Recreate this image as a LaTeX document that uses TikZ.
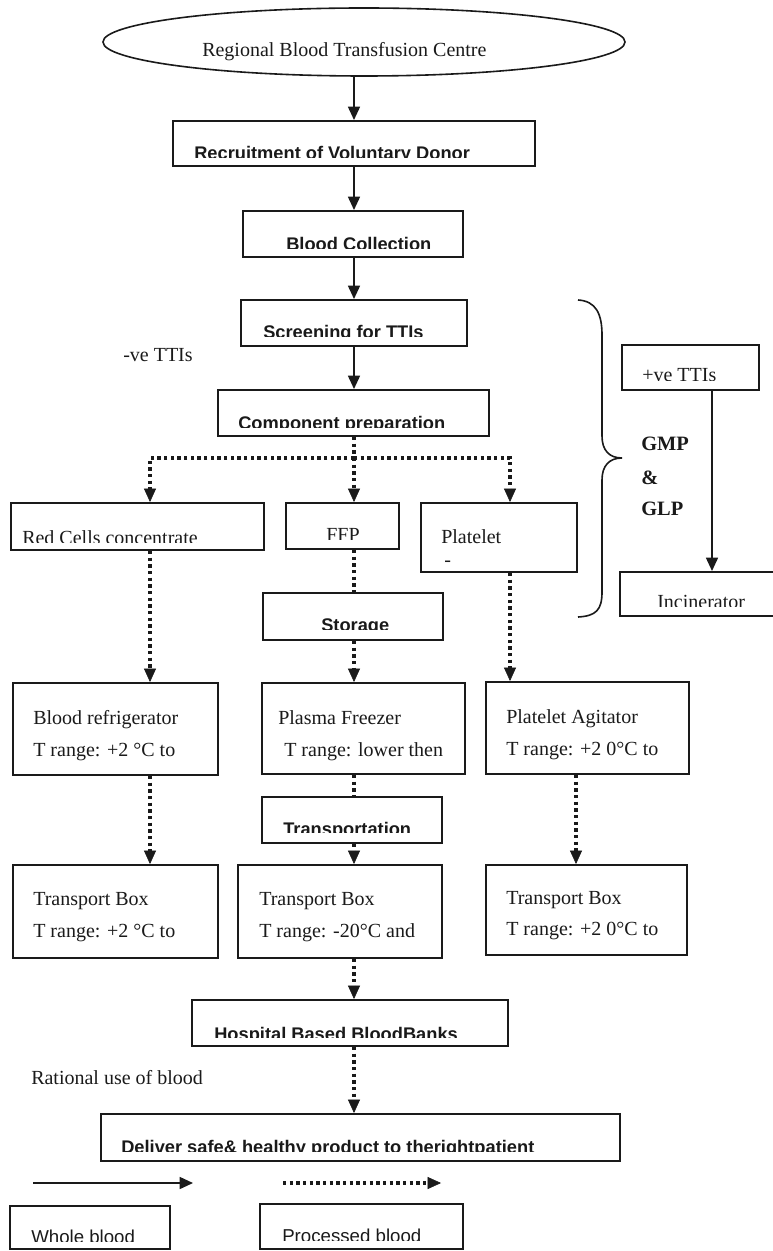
\documentclass[tikz,border=0pt]{standalone}
\usepackage{fontspec}
\setmainfont{Liberation Serif}
\newfontfamily\hsans{Liberation Sans}
\usetikzlibrary{arrows.meta,fit,shapes.geometric}
\definecolor{ink}{HTML}{1A1A1A}
\newcommand{\cliptext}[6]{%
  \begin{scope}\clip (0,0) rectangle (800,#4);
  \node[#5] (#1) at (#2,#3) {#6};
  \end{scope}}
\begin{document}
\begin{tikzpicture}[x=0.75pt,y=-0.75pt,
  box/.style={draw=ink, line width=1.5pt, inner sep=0pt, rectangle},
  txt/.style={inner sep=0pt, anchor=base west, text=ink, font=\fontsize{15}{18}\selectfont},
  hd/.style={txt, font=\hsans\bfseries\fontsize{13.7}{16}\selectfont},
  lsans/.style={txt, font=\hsans\fontsize{14}{17}\selectfont},
  gx/.style={txt, font=\bfseries\fontsize{15.3}{18}\selectfont},
  arr/.style={draw=ink, line width=1.2pt, -{Triangle[length=10pt,width=9pt]}},
  dotl/.style={draw=ink, line width=2.8pt, dash pattern=on 2.4pt off 2.6pt},
  darr/.style={dotl, -{Triangle[length=10pt,width=9pt,line width=0.4pt]}},
  brace/.style={draw=ink, line width=1.2pt}]
\useasboundingbox (0,0) rectangle (772,1251);
\fill[white] (0,0) rectangle (772,1251);

% guide coordinates
\coordinate (ax) at (354,0);
\coordinate (colA) at (150,0);
\coordinate (colC) at (510,0);
\coordinate (colD) at (576,0);
\coordinate (colP) at (712,0);
\coordinate (hub) at (354,458);

% ellipse
\node[draw=ink, line width=1.2pt, ellipse, minimum width=391.5pt, minimum height=51pt, inner sep=0pt] (ell) at (364,42) {};
\node[txt] (t-ell) at (202,57) {Regional Blood Transfusion Centre};

% main boxes
\node[box, fit={(173,121)(535,166)}] (rec) {};
\cliptext{t-rec}{194}{160}{157.5}{hd}{Recruitment of Voluntary Donor}
\node[box, fit={(243,211)(463,257)}] (col) {};
\cliptext{t-col}{286}{251}{248.5}{hd}{Blood Collection}
\node[box, fit={(241,300)(467,346)}] (scr) {};
\cliptext{t-scr}{263}{339}{337}{hd}{Screening for TTIs}
\node[txt] (t-neg) at (123,362) {-ve TTIs};
\node[box, fit={(218,390)(489,436)}] (comp) {};
\cliptext{t-comp}{238}{429}{427}{hd}{Component preparation}

% +ve branch
\node[box, fit={(622,345)(759,390)}] (pos) {};
\cliptext{t-pos}{642}{382}{380}{txt}{+ve TTIs}
\node[box, fit={(620,572)(778,616)}] (inc) {};
\cliptext{t-inc}{657}{608}{606}{txt}{Incinerator}
\draw[brace] (578,300) .. controls (596,301) and (602,314) .. (602,335)
  -- (602,436) .. controls (602,450) and (609,458) .. (622,458)
  .. controls (609,458) and (602,466) .. (602,480)
  -- (602,592) .. controls (602,610) and (596,616) .. (578,617);
\node[gx] (t-gmp) at (641,450) {GMP};
\node[gx] (t-amp) at (641,484) {\&};
\node[gx] (t-glp) at (641,515) {GLP};

% components
\node[box, fit={(11,503)(264,550)}] (red) {};
\cliptext{t-red}{22}{544}{542}{txt}{Red Cells concentrate}
\node[box, fit={(286,503)(399,549)}] (ffp) {};
\cliptext{t-ffp}{326}{541}{539}{txt}{FFP}
\node[box, fit={(421,503)(577,572)}] (plt) {};
\node[txt] (t-plt) at (441,543) {Platelet};
\node[txt] (t-dash) at (444,566) {-};
\node[box, fit={(263,593)(443,640)}] (sto) {};
\cliptext{t-sto}{321}{631}{629}{hd}{Storage}

% storage equipment
\node[box, fit={(13,683)(218,775)}] (bref) {};
\node[txt] (t-bref1) at (33,724) {Blood refrigerator};
\node[txt] (t-bref2) at (33,756) {T range: +2 °C to};
\node[box, fit={(262,683)(465,774)}] (pfz) {};
\node[txt] (t-pfz1) at (278,724) {Plasma Freezer};
\node[txt] (t-pfz2) at (284,756) {T range: lower then};
\node[box, fit={(486,682)(689,774)}] (agi) {};
\node[txt] (t-agi1) at (506,723) {Platelet Agitator};
\node[txt] (t-agi2) at (506,755) {T range: +2 0°C to};
\node[box, fit={(262,797)(442,843)}] (trn) {};
\cliptext{t-trn}{283}{835}{832}{hd}{Transportation}

% transport boxes
\node[box, fit={(13,865)(218,958)}] (tb1) {};
\node[txt] (t-tb1a) at (33,905) {Transport Box};
\node[txt] (t-tb1b) at (33,937) {T range: +2 °C to};
\node[box, fit={(238,865)(442,958)}] (tb2) {};
\node[txt] (t-tb2a) at (259,905) {Transport Box};
\node[txt] (t-tb2b) at (259,937) {T range: -20°C and};
\node[box, fit={(486,865)(687,955)}] (tb3) {};
\node[txt] (t-tb3a) at (506,904) {Transport Box};
\node[txt] (t-tb3b) at (506,935) {T range: +2 0°C to};

% hospital and delivery
\node[box, fit={(192,1000)(508,1046)}] (hos) {};
\cliptext{t-hos}{214}{1040}{1037}{hd}{Hospital Based BloodBanks}
\node[txt] (t-rat) at (31,1084) {Rational use of blood};
\node[box, fit={(101,1114)(620,1161)}] (del) {};
\cliptext{t-del}{121}{1153}{1151}{hd}{Deliver safe\& healthy product to therightpatient}

% legend
\coordinate (lg1) at (33,1183);
\coordinate (lg2) at (193,1183);
\coordinate (lg3) at (283,1183);
\coordinate (lg4) at (441,1183);
\draw[arr] (lg1) -- (lg2);
\draw[darr] (lg3) -- (lg4);
\node[box, fit={(10,1206)(170,1249)}] (whole) {};
\cliptext{t-whole}{31}{1243}{1241}{lsans}{Whole blood}
\node[box, fit={(260,1204)(463,1249)}] (proc) {};
\cliptext{t-proc}{282}{1242}{1240}{lsans}{Processed blood}

% solid connectors (whole blood)
\draw[arr] (ell.south -| ax) -- (rec.north -| ax);
\draw[arr] (rec.south -| ax) -- (col.north -| ax);
\draw[arr] (col.south -| ax) -- (scr.north -| ax);
\draw[arr] (scr.south -| ax) -- (comp.north -| ax);
\draw[arr] (pos.south -| colP) -- (inc.north -| colP);

% dotted connectors (processed blood)
\draw[dotl] (comp.south -| ax) -- (hub);
\draw[darr] (hub) -| (red.north -| colA);
\draw[darr] (hub) -| (plt.north -| colC);
\draw[darr] (hub) -- (ffp.north -| ax);
\draw[darr] (red.south -| colA) -- (bref.north -| colA);
\draw[dotl] (ffp.south -| ax) -- (sto.north -| ax);
\draw[darr] (sto.south -| ax) -- (pfz.north -| ax);
\draw[darr] (plt.south -| colC) -- (agi.north -| colC);
\draw[darr] (bref.south -| colA) -- (tb1.north -| colA);
\draw[dotl] (pfz.south -| ax) -- (trn.north -| ax);
\draw[darr] (trn.south -| ax) -- (tb2.north -| ax);
\draw[darr] (agi.south -| colD) -- (tb3.north -| colD);
\draw[darr] (tb2.south -| ax) -- (hos.north -| ax);
\draw[darr] (hos.south -| ax) -- (del.north -| ax);
\end{tikzpicture}
\end{document}
